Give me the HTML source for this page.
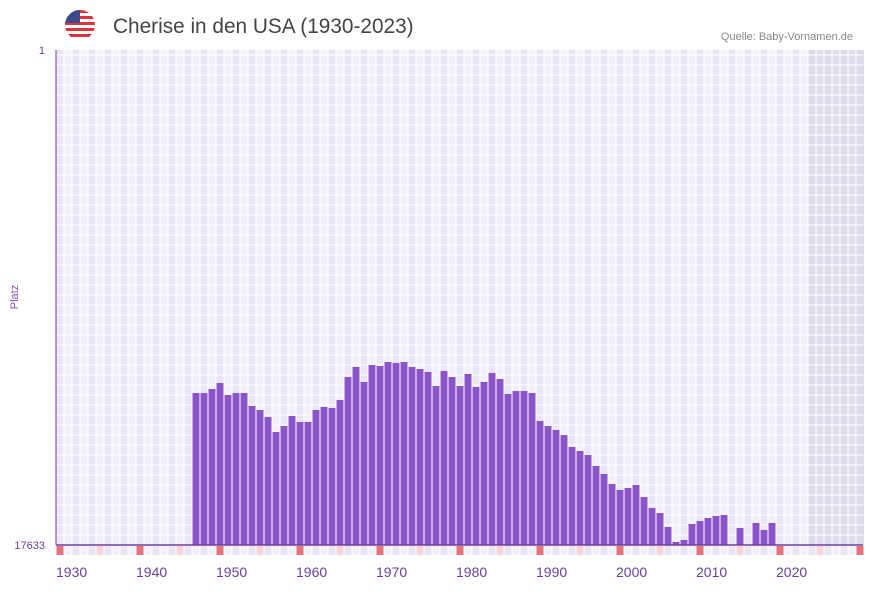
<!DOCTYPE html>
<html><head><meta charset="utf-8"><style>
body{margin:0;background:#fff;font-family:"Liberation Sans",sans-serif}
svg text{font-family:"Liberation Sans",sans-serif}
</style></head><body>
<svg id="c" width="873" height="587">
<g>
<clipPath id="fc"><circle cx="80" cy="25" r="15"/></clipPath>
<g clip-path="url(#fc)">
<rect x="65" y="10" width="30" height="30" fill="#fff"/>
<rect x="65" y="10" width="30" height="3" fill="#e0343c"/>
<rect x="65" y="16" width="30" height="3" fill="#e0343c"/>
<rect x="65" y="22" width="30" height="3" fill="#e0343c"/>
<rect x="65" y="28" width="30" height="3" fill="#e0343c"/>
<rect x="65" y="34" width="30" height="3" fill="#e0343c"/>
<rect x="65" y="10" width="15" height="13" fill="#3c4a8c"/>
</g></g>
<text x="113" y="33" font-size="20.8" fill="#444">Cherise in den USA (1930-2023)</text>
<text x="853" y="40" font-size="11" fill="#888" text-anchor="end">Quelle: Baby-Vornamen.de</text>
<text x="45" y="54" font-size="11" fill="#6b3fa0" text-anchor="end">1</text>
<text x="45" y="549" font-size="11" fill="#6b3fa0" text-anchor="end">17633</text>
<text transform="translate(18,297) rotate(-90)" font-size="11" fill="#8a4fc8" text-anchor="middle">Platz</text>
<g id="grid"></g><g id="bars"></g><g id="marks"></g><g id="xl"></g>
<line x1="56" y1="50" x2="56" y2="545" stroke="#6b3fa0" stroke-width="1"/>
<line x1="56" y1="545" x2="863" y2="545" stroke="#6b3fa0" stroke-width="1.5"/>
</svg>
<script>
const startYear=1947;
const ranks=[12218,12218,12076,11862,12289,12218,12218,12681,12824,13073,13608,13394,13038,13251,13251,12824,12717,12753,12468,11649,11292,11827,11221,11257,11114,11150,11114,11292,11364,11471,11969,11435,11649,11969,11542,12005,11827,11506,11720,12254,12147,12147,12218,13216,13394,13536,13715,14142,14285,14427,14819,15104,15460,15674,15603,15496,15924,16315,16493,16992,17526,17455,16885,16778,16671,16600,16564,null,17027,null,16849,17100,16849];
const tickYears=[1930,1940,1950,1960,1970,1980,1990,2000,2010,2020];
const firstYear=1930,lastYear=2030,maxRank=17633,dataEndYear=2023;
const NS="http://www.w3.org/2000/svg";
const L=56,T=50,B=545,W=8;
const x=y=>L+(y-firstYear)*W;
const yr=r=>T+(r-1)/(maxRank-1)*(B-T);
function mk(t,a,p){const e=document.createElementNS(NS,t);for(const k in a)e.setAttribute(k,a[k]);p.appendChild(e);return e;}
const g=document.getElementById('grid');
for(let yy=firstYear;yy<=lastYear;yy++){
 const r=mk('rect',{x:x(yy),y:T,width:W,height:B-T,fill:yy>dataEndYear?((yy%2)?'#e2dded':'#dfdaea'):((yy%2)?'#f3f0fb':'#ebe6f7')},g);
 
 
 const m=mk('rect',{x:x(yy)+0.5,y:546,width:W-1,height:9,fill:yy%10==0?'#e8727a':(yy%5==0?'#f5d5dc':((yy%2)?'#f3f0fb':'#ebe6f7'))},document.getElementById('marks'));
 
 
}
for(let xx=L+W;xx<863;xx+=W){const l=mk('line',{x1:xx,y1:T,x2:xx,y2:B,stroke:'#fff','stroke-width':1},g);}
for(let yy=B-10;yy>T;yy-=10){const l=mk('line',{x1:L,y1:yy,x2:863,y2:yy,stroke:'#fff','stroke-width':1},g);}
const bg=document.getElementById('bars');
ranks.forEach((r,i)=>{if(r==null)return;const yy=startYear+i;const top=yr(r);
 const b=mk('rect',{x:x(yy)+0.5,y:top,width:W-1,height:B-top,fill:'#8c55c7'},bg);
 
 });
const xl=document.getElementById('xl');
tickYears.forEach(t=>{const e=mk('text',{x:x(t),y:577,'font-size':14,fill:'#6b3fa0'},xl);e.textContent=t;
 
 });
</script>
</body></html>
